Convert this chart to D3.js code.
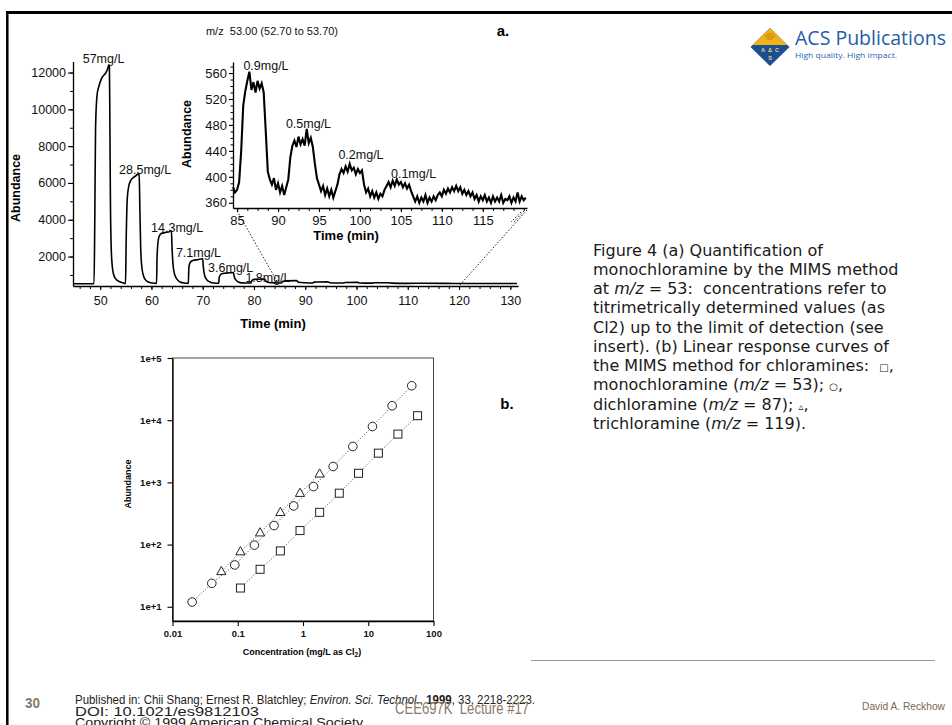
<!DOCTYPE html>
<html><head><meta charset="utf-8">
<script src="https://cdn.jsdelivr.net/npm/d3@7"></script>
<style>body{margin:0;background:#fff;} svg{display:block;} text{white-space:pre;}</style>
</head><body>
<svg id="c" width="952" height="725"></svg>
<script>
// ---------------- DATA ----------------
// (a) main chromatogram, m/z 53: [time (min), abundance]
const mainTrace = [
 [44.8,520],[48.8,520],[48.95,4000],[49.1,9000],[49.4,10800],[49.7,11200],[50.3,11700],[51.0,11950],[51.4,12150],[51.65,12380],[51.8,12380],
 [51.9,9000],[52.0,5000],[52.15,2500],[52.35,1500],[52.6,1050],[53.0,800],[53.6,660],[54.4,580],[54.95,540],
 [55.05,2500],[55.3,5200],[55.6,5850],[56.0,6150],[56.5,6300],[57.0,6400],[57.3,6480],[57.6,6450],
 [57.75,4500],[57.9,2500],[58.1,1500],[58.4,1000],[58.8,750],[59.4,620],[60.2,560],[61.0,540],
 [61.1,2000],[61.4,3000],[61.9,3250],[62.6,3300],[63.5,3350],[63.9,3400],
 [64.0,2600],[64.2,1600],[64.5,1050],[65.0,760],[65.6,620],[66.4,560],[67.2,545],
 [67.3,1400],[67.6,1700],[68.2,1800],[69.0,1830],[70.0,1880],
 [70.1,1500],[70.35,1000],[70.8,740],[71.4,620],[72.2,560],[73.1,550],
 [73.25,900],[73.7,1060],[74.5,1100],[76.0,1130],[76.15,900],[76.5,720],[77.0,620],[77.5,570],[79.4,560],
 [79.6,700],[80.0,760],[81.0,770],[82.1,780],[82.3,660],[82.9,590],[84.0,570],[85.3,560],
 [85.6,640],[86.2,680],[88.3,690],[88.7,600],[90.0,575],[91.4,565],[91.7,610],[92.3,620],[94.4,625],[94.8,580],
 [96.0,565],[97.4,565],[97.8,590],[100.3,595],[100.6,565],[103.0,555],[103.5,575],[106.4,578],[106.8,555],
 [110.0,545],[113.0,550],[120.0,535],[125.0,535],[131.3,535]
];
const mainXTicks = [50,60,70,80,90,100,110,120,130];
const mainYTicks = [2000,4000,6000,8000,10000,12000];
const peakLabels = ["57mg/L","28.5mg/L","14.3mg/L","7.1mg/L","3.6mg/L","1.8mg/L"];
const peakLabelTime = [50.66,58.78,65.02,69.18,75.46,82.73];
const peakLabelAbund = [12495,6478,3342,1951,1168,592];

// (a) insert, 85-120 min
const insetStartTime = 84.5, insetStep = 0.25;
const insetAbundance = [
 384,376,
 380,392,440,510, 532,548,562,534, 546,530,548,536, 544,530,470,408,
 396,388,398,380, 390,376,386,372, 384,396,430,448, 456,446,462,450,
 458,448,474,452, 460,446,420,398, 388,378,386,372, 382,370,380,368,
 378,388,404,412, 406,416,408,420, 410,414,404,412, 406,410,388,376,
 382,370,378,368, 376,366,374,370, 380,386,392,384, 394,386,396,388,
 392,384,390,382, 388,378,370,362, 370,360,368,362, 372,360,368,362,
 370,364,372,376, 370,380,374,382, 376,384,378,386, 378,384,374,380,
 372,378,370,376, 366,372,362,370, 364,372,362,368, 360,370,362,368,
 362,372,360,366, 364,370,360,368, 362,376,362,370,
 364,368
];
const insetXTicks = [85,90,95,100,105,110,115];
const insetYTicks = [360,400,440,480,520,560];
const insetLabels = ["0.9mg/L","0.5mg/L","0.2mg/L","0.1mg/L"];
const insetLabelTime = [88.53,93.72,100.13,106.55];
const insetLabelAbund = [565,476,428,398];

// (b) response curves
const monoConc  = [0.11,0.22,0.45,0.9,1.8,3.6,7.1,14.3,28.5,57];
const monoAbund = [20,40,79,168,330,670,1400,2950,5970,11800];
const diConc  = [0.02,0.04,0.09,0.18,0.36,0.72,1.45,2.9,5.8,11.6,23.2,46.4];
const diAbund = [11.9,23.8,47,98,202,418,857,1800,3780,7920,17060,35800];
const triConc  = [0.056,0.11,0.22,0.45,0.9,1.8];
const triAbund = [37,77,155,330,670,1370];
const bXTicks = [0.01,0.1,1,10,100];
const bXTickLabels = ["0.01","0.1","1","10","100"];
const bYTicks = [10,100,1000,10000,100000];
const bYTickLabels = ["1e+1","1e+2","1e+3","1e+4","1e+5"];

// ---------------- DRAW ----------------
const svg = d3.select("#c");
const F = "'Liberation Sans', Arial, Helvetica, sans-serif";

function styleAxis(g, size, weight) {
  g.attr("font-family", F).attr("font-size", size).attr("font-weight", weight || "normal");
  g.select(".domain").attr("stroke", "#000").attr("stroke-width", 1.3);
  g.selectAll(".tick line").attr("stroke", "#000").attr("stroke-width", 1.1);
  g.selectAll(".tick text").attr("fill", "#111");
  return g;
}
function minor(g) { g.select(".domain").remove(); g.selectAll(".tick line").attr("stroke","#000").attr("stroke-width",1); }

// slide frame
svg.append("line").attr("x1",6).attr("x2",952).attr("y1",12.5).attr("y2",12.5).attr("stroke","#000").attr("stroke-width",3);
svg.append("line").attr("x1",7.3).attr("x2",7.3).attr("y1",11).attr("y2",725).attr("stroke","#000").attr("stroke-width",2.5);

// ---- (a) main
const xMain = d3.scaleLinear().domain([44.7, 131.5]).range([73, 518]);
const yMain = d3.scaleLinear().domain([400, 12600]).range([286, 61.5]);

svg.append("g").attr("transform","translate(0,286)")
  .call(d3.axisBottom(xMain).tickValues(d3.range(46,132,2)).tickSize(3).tickFormat(() => "")).call(minor);
svg.append("g").attr("transform","translate(73,0)")
  .call(d3.axisLeft(yMain).tickValues(d3.range(1000,12001,1000)).tickSize(3).tickFormat(() => "")).call(minor);
styleAxis(svg.append("g").attr("transform","translate(0,286)")
  .call(d3.axisBottom(xMain).tickValues(mainXTicks).tickSize(4).tickSizeOuter(0).tickPadding(6).tickFormat(d3.format("d"))), 12.5);
styleAxis(svg.append("g").attr("transform","translate(73,0)")
  .call(d3.axisLeft(yMain).tickValues(mainYTicks).tickSize(5).tickSizeOuter(0).tickPadding(2).tickFormat(d3.format("d"))), 12.5);

svg.append("path").datum(mainTrace)
  .attr("d", d3.line().x(d => xMain(d[0])).y(d => yMain(d[1])).curve(d3.curveMonotoneX))
  .attr("fill","none").attr("stroke","#000").attr("stroke-width",1.6);

svg.selectAll(".plab").data(peakLabels).join("text")
  .attr("x",(d,i)=>xMain(peakLabelTime[i])).attr("y",(d,i)=>yMain(peakLabelAbund[i]))
  .attr("text-anchor","middle").attr("font-family",F).attr("font-size",12.5).attr("fill","#111").text(d=>d);

svg.append("text").attr("x",273).attr("y",328).attr("text-anchor","middle").attr("font-family",F)
  .attr("font-size",13).attr("font-weight","bold").text("Time (min)");
svg.append("text").attr("transform","translate(20,188) rotate(-90)").attr("text-anchor","middle").attr("font-family",F)
  .attr("font-size",12.5).attr("font-weight","bold").text("Abundance");
svg.append("text").attr("x",272).attr("y",35).attr("text-anchor","middle").attr("font-family",F)
  .attr("font-size",11).attr("fill","#111").text("m/z  53.00 (52.70 to 53.70)");
svg.append("text").attr("x",503).attr("y",36).attr("text-anchor","middle").attr("font-family",F)
  .attr("font-size",15).attr("font-weight","bold").text("a.");

// ---- (a) insert
const insetX = d3.scaleLinear().domain([84.5, 120.4]).range([233, 527]);
const insetY = d3.scaleLinear().domain([352, 577]).range([208, 62]);

const dotted = g => g.attr("stroke","#222").attr("stroke-width",1).attr("stroke-dasharray","1.5,1.8").attr("fill","none");
svg.append("line").attr("x1",insetX(85)).attr("y1",211).attr("x2",xMain(85)).attr("y2",286).call(dotted);
svg.append("line").attr("x1",insetX(120.4)).attr("y1",210).attr("x2",xMain(120)).attr("y2",286).call(dotted);
svg.append("line").attr("x1",insetX(120.4)-3).attr("y1",211).attr("x2",insetX(120.4)-14).attr("y2",223).call(dotted);
svg.append("line").attr("x1",insetX(120.4)-6).attr("y1",212).attr("x2",insetX(120.4)-16).attr("y2",222).call(dotted);

svg.append("g").attr("transform","translate(0,208)")
  .call(d3.axisBottom(insetX).tickValues(d3.range(85,120.1,1.25)).tickSize(3).tickFormat(() => "")).call(minor);
svg.append("g").attr("transform","translate(233,0)")
  .call(d3.axisLeft(insetY).tickValues(d3.range(360,571,10)).tickSize(2.5).tickFormat(() => "")).call(minor);
styleAxis(svg.append("g").attr("transform","translate(0,208)")
  .call(d3.axisBottom(insetX).tickValues(insetXTicks).tickSize(4).tickSizeOuter(0).tickPadding(4).tickFormat(d3.format("d"))), 13);
styleAxis(svg.append("g").attr("transform","translate(233,0)")
  .call(d3.axisLeft(insetY).tickValues(insetYTicks).tickSize(4).tickSizeOuter(0).tickPadding(2).tickFormat(d3.format("d"))), 13);

svg.append("path").datum(insetAbundance)
  .attr("d", d3.line().x((d,i) => insetX(insetStartTime + i*insetStep)).y(d => insetY(d)))
  .attr("fill","none").attr("stroke","#000").attr("stroke-width",2.1).attr("stroke-linejoin","miter");

svg.selectAll(".ilab").data(insetLabels).join("text")
  .attr("x",(d,i)=>insetX(insetLabelTime[i])).attr("y",(d,i)=>insetY(insetLabelAbund[i]))
  .attr("text-anchor","middle").attr("font-family",F).attr("font-size",12.5).attr("fill","#111").text(d=>d);

svg.append("text").attr("x",346).attr("y",240).attr("text-anchor","middle").attr("font-family",F)
  .attr("font-size",13).attr("font-weight","bold").text("Time (min)");
svg.append("text").attr("transform","translate(191,134) rotate(-90)").attr("text-anchor","middle").attr("font-family",F)
  .attr("font-size",12.5).attr("font-weight","bold").text("Abundance");

// ---- (b)
const xB = d3.scaleLog().domain([0.01, 100]).range([172.5, 433.5]);
const yB = d3.scaleLog().domain([5.9, 1e5]).range([621, 358]);

svg.append("rect").attr("x",172.5).attr("y",358).attr("width",261).attr("height",263)
  .attr("fill","none").attr("stroke","#444").attr("stroke-width",1);
styleAxis(svg.append("g").attr("transform","translate(0,621)")
  .call(d3.axisBottom(xB).tickValues(bXTicks).tickSize(5).tickSizeOuter(0).tickPadding(4).tickFormat((d,i)=>bXTickLabels[i])), 9.5, "bold");
styleAxis(svg.append("g").attr("transform","translate(172.5,0)")
  .call(d3.axisLeft(yB).tickValues(bYTicks).tickSize(5).tickSizeOuter(0).tickPadding(6).tickFormat((d,i)=>bYTickLabels[i])), 9.5, "bold");

const dotLine = d3.line().x(d => xB(d[0])).y(d => yB(d[1]));
[[monoConc,monoAbund],[diConc,diAbund],[triConc,triAbund]].forEach(([c,a]) => {
  svg.append("path").datum(c.map((v,i)=>[v,a[i]])).attr("d", dotLine)
    .attr("fill","none").attr("stroke","#666").attr("stroke-width",1).attr("stroke-dasharray","1.2,1.8");
});
svg.selectAll(".sq").data(monoConc).join("rect")
  .attr("x",(d)=>xB(d)-4).attr("y",(d,i)=>yB(monoAbund[i])-4).attr("width",8).attr("height",8)
  .attr("fill","#fff").attr("stroke","#222").attr("stroke-width",1);
svg.selectAll(".ci").data(diConc).join("circle")
  .attr("cx",(d)=>xB(d)).attr("cy",(d,i)=>yB(diAbund[i])).attr("r",4.3)
  .attr("fill","#fff").attr("stroke","#222").attr("stroke-width",1);
svg.selectAll(".tr").data(triConc).join("path")
  .attr("transform",(d,i)=>`translate(${xB(d)},${yB(triAbund[i])})`)
  .attr("d","M0,-5L4.6,3.2L-4.6,3.2Z")
  .attr("fill","#fff").attr("stroke","#222").attr("stroke-width",1);

const bx = svg.append("text").attr("x",302).attr("y",655).attr("text-anchor","middle").attr("font-family",F)
  .attr("font-size",9).attr("font-weight","bold");
bx.append("tspan").text("Concentration (mg/L as Cl");
bx.append("tspan").attr("font-size",6.5).attr("dy",2).text("2");
bx.append("tspan").attr("dy",-2).text(")");
svg.append("text").attr("transform","translate(131,484) rotate(-90)").attr("text-anchor","middle").attr("font-family",F)
  .attr("font-size",9).attr("font-weight","bold").text("Abundance");
svg.append("text").attr("x",507).attr("y",409).attr("text-anchor","middle").attr("font-family",F)
  .attr("font-size",15).attr("font-weight","bold").text("b.");

// ---- caption
const CF = "'DejaVu Sans', Verdana, sans-serif";
const captionLines = [
 [["Figure 4 (a) Quantification of"]],
 [["monochloramine by the MIMS method"]],
 [["at "],["m/z","i"],[" = 53:  concentrations refer to"]],
 [["titrimetrically determined values (as"]],
 [["Cl2) up to the limit of detection (see"]],
 [["insert). (b) Linear response curves of"]],
 [["the MIMS method for chloramines:  "],["\u25A1","s"],[","]],
 [["monochloramine ("],["m/z","i"],[" = 53); "],["\u25CB","s"],[","]],
 [["dichloramine ("],["m/z","i"],[" = 87); "],["\u25B5","s"],[","]],
 [["trichloramine ("],["m/z","i"],[" = 119)."]]
];
captionLines.forEach((segs, li) => {
  const t = svg.append("text").attr("x",593).attr("y",255.5 + li*19.27)
    .attr("font-family",CF).attr("font-size",16).attr("fill","#1a1a1a");
  segs.forEach(s => {
    const sp = t.append("tspan").text(s[0]);
    if (s[1] === "i") sp.attr("font-style","italic");
    if (s[1] === "s") sp.attr("font-size",10);
  });
});

// ---- ACS logo
const lg = svg.append("g");
lg.append("path").attr("d","M770,28 L789.5,47 L770,66 L750.5,47 Z").attr("fill","#1b4f93");
lg.append("path").attr("d","M770,28 L787.5,45 L752.5,45 Z").attr("fill","#f2b21b");
lg.append("path").attr("d","M764,36 Q770,29 776,36 L772,40 L768,40 Z").attr("fill","#e09a10");
lg.append("text").attr("x",770).attr("y",51.5).attr("text-anchor","middle").attr("font-family",F)
  .attr("font-size",5.5).attr("font-weight","bold").attr("fill","#f5d36a").text("A  \u0394  C");
lg.append("text").attr("x",770).attr("y",60).attr("text-anchor","middle").attr("font-family",F)
  .attr("font-size",5.5).attr("font-weight","bold").attr("fill","#f5d36a").text("S");
lg.append("text").attr("x",795).attr("y",45).attr("font-family","'Open Sans', 'Noto Sans', sans-serif")
  .attr("font-size",20).attr("fill","#1f5ea8").attr("textLength",151).attr("lengthAdjust","spacingAndGlyphs").text("ACS Publications");
lg.append("text").attr("x",795).attr("y",57.5).attr("font-family","'Open Sans', 'Noto Sans', sans-serif")
  .attr("font-size",8).attr("fill","#2a67b0").attr("textLength",102).attr("lengthAdjust","spacingAndGlyphs").text("High quality. High impact.");

// ---- footer
svg.append("line").attr("x1",531).attr("x2",935).attr("y1",660.5).attr("y2",660.5).attr("stroke","#999").attr("stroke-width",1);
const NF = "'Liberation Sans', Arial, sans-serif";
svg.append("text").attr("x",25).attr("y",708).attr("font-family",NF).attr("font-size",14).attr("font-weight","bold")
  .attr("fill","#8a7765").attr("textLength",15).attr("lengthAdjust","spacingAndGlyphs").text("30");
const f1 = svg.append("text").attr("x",75).attr("y",704).attr("font-family",NF).attr("font-size",12.5).attr("fill","#222")
  .attr("textLength",460).attr("lengthAdjust","spacingAndGlyphs");
f1.append("tspan").text("Published in: Chii Shang; Ernest R. Blatchley; ");
f1.append("tspan").attr("font-style","italic").text("Environ. Sci. Technol.");
f1.append("tspan").text(", ");
f1.append("tspan").attr("font-weight","bold").text("1999");
f1.append("tspan").text(", 33, 2218-2223.");
svg.append("text").attr("x",75).attr("y",715.5).attr("font-family",NF).attr("font-size",12.5).attr("fill","#222")
  .attr("textLength",184).attr("lengthAdjust","spacingAndGlyphs").text("DOI: 10.1021/es9812103");
svg.append("text").attr("x",75).attr("y",727).attr("font-family",NF).attr("font-size",12.5).attr("fill","#222")
  .attr("textLength",288).attr("lengthAdjust","spacingAndGlyphs").text("Copyright \u00A9 1999 American Chemical Society");
svg.append("text").attr("x",395).attr("y",714).attr("font-family",NF).attr("font-size",16.5)
  .attr("fill","#8a7765").attr("textLength",134).attr("lengthAdjust","spacingAndGlyphs").text("CEE697K  Lecture #17");
svg.append("text").attr("x",862).attr("y",710).attr("font-family",NF).attr("font-size",11)
  .attr("fill","#7a6857").attr("textLength",83).attr("lengthAdjust","spacingAndGlyphs").text("David A. Reckhow");
</script>
</body></html>
